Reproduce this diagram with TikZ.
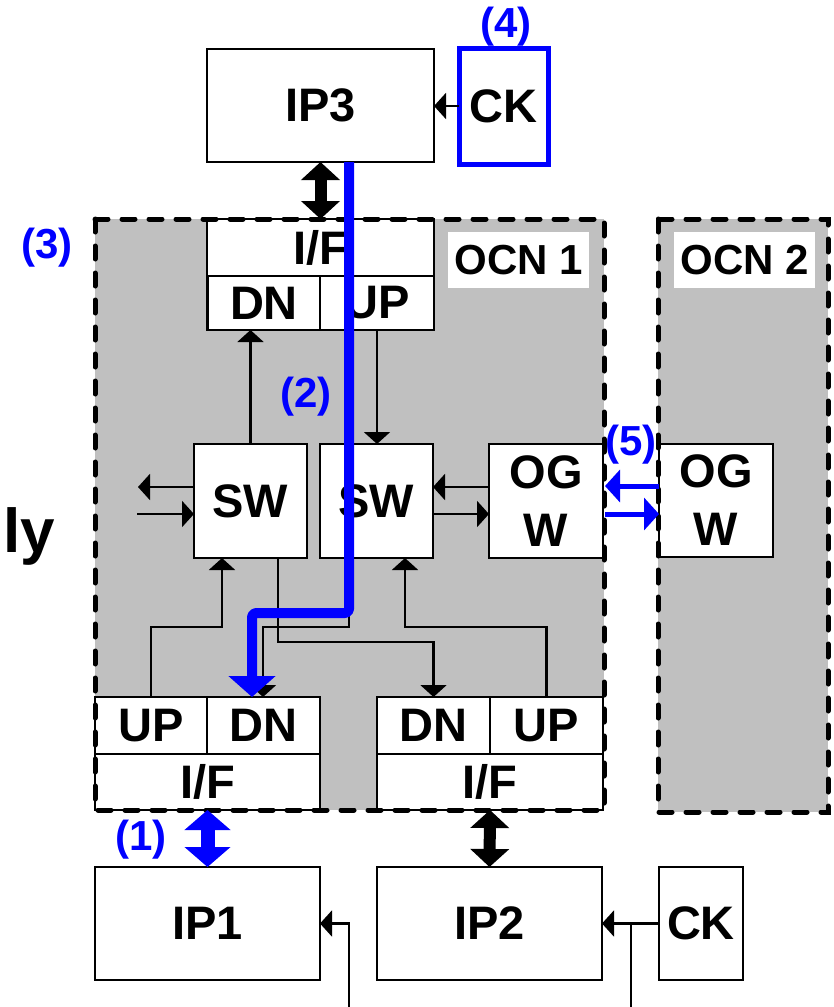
\documentclass[tikz,border=0pt]{standalone}
\usepackage{fontspec}
\setmainfont{Liberation Sans}
\usetikzlibrary{arrows.meta,calc}
\definecolor{ocngray}{HTML}{C0C0C0}
\definecolor{pblue}{HTML}{0000FF}
\begin{document}
\begin{tikzpicture}[x=1pt,y=-1pt,
  box/.style={draw=black,line width=2.6pt,fill=white,inner sep=0pt,outer sep=0pt,
    font=\bfseries\fontsize{47}{58}\selectfont,align=center},
  region/.style={fill=ocngray,inner sep=0pt,outer sep=0pt},
  border/.style={line width=5pt,line cap=round,dash pattern=on 13pt off 14pt},
  lbl/.style={fill=white,inner sep=0pt,outer sep=0pt,font=\bfseries\fontsize{42}{44}\selectfont},
  num/.style={text=pblue,inner sep=0pt,font=\bfseries\fontsize{42}{44}\selectfont},
  arr/.style={line width=2.2pt,-{Triangle[width=26pt,length=12pt]}},
  wire/.style={line width=2.2pt},
  bigdbl/.style={line width=12pt,{Triangle[width=38pt,length=18pt]}-{Triangle[width=38pt,length=18pt]}},
  bluedbl/.style={pblue,line width=14pt,{Triangle[width=45pt,length=20pt]}-{Triangle[width=45pt,length=20pt]}},
  barr/.style={pblue,line width=5pt,-{Triangle[width=32pt,length=15pt]}},
  route/.style={pblue,line width=10pt,line join=round,rounded corners=4pt,-{Triangle[width=46pt,length=21pt]}}
]
\useasboundingbox (0,0) rectangle (833,1007);

% regions
\node[region,minimum width=509pt,minimum height=591pt] (ocn1) at (349.5,514.5) {};
\node[region,minimum width=170pt,minimum height=593pt] (ocn2) at (743,515.5) {};
\node[lbl,minimum width=141pt,minimum height=56pt] (ocn1lbl) at (518.5,260) {OCN 1};
\node[lbl,minimum width=141pt,minimum height=56pt] (ocn2lbl) at (744.5,260) {OCN 2};

% top
\node[box,minimum width=227pt,minimum height=113pt] (IP3) at (320.5,105.5) {IP3};
\node[box,draw=pblue,line width=5pt,minimum width=89pt,minimum height=116pt] (CK4) at (503.5,106) {CK};
\node[box,minimum width=227pt,minimum height=57pt] (IF3) at (320.5,247.5) {I/F};
\node[box,minimum width=113pt,minimum height=54pt] (DN3) at (264,303) {DN};
\node[box,minimum width=114pt,minimum height=54pt] (UP3) at (377,303) {UP};

% switches
\node[box,minimum width=113pt,minimum height=114pt] (SW1) at (250.5,501) {SW};
\node[box,minimum width=113pt,minimum height=114pt] (SW2) at (376.5,501) {SW};
\node[box,minimum width=114pt,minimum height=114pt] (OGW1) at (546,501) {OG\\W};
\node[box,minimum width=114pt,minimum height=113pt] (OGW2) at (716,500.5) {OG\\W};

% bottom interfaces
\node[box,minimum width=112pt,minimum height=57pt] (UP1) at (151,725.5) {UP};
\node[box,minimum width=113pt,minimum height=57pt] (DN1) at (263.5,725.5) {DN};
\node[box,minimum width=225pt,minimum height=56pt] (IF1) at (207.5,782) {I/F};
\node[box,minimum width=113pt,minimum height=57pt] (DN2) at (433.5,725.5) {DN};
\node[box,minimum width=113pt,minimum height=57pt] (UP2) at (546.5,725.5) {UP};
\node[box,minimum width=226pt,minimum height=56pt] (IF2) at (490,782) {I/F};

% IPs
\node[box,minimum width=225pt,minimum height=113pt] (IP1) at (207.5,923.5) {IP1};
\node[box,minimum width=225pt,minimum height=113pt] (IP2) at (489.5,923.5) {IP2};
\node[box,minimum width=84pt,minimum height=113pt] (CK2) at (701,923.5) {CK};

% dashed borders
\draw[border] (ocn1.north west) rectangle (ocn1.south east);
\draw[border] (ocn2.north west) rectangle (ocn2.south east);

% coordinates
\coordinate (swL1) at (138,487);
\coordinate (swL2) at (137,514);
\coordinate (j1) at (222,627);
\coordinate (j2) at (278,642);
\coordinate (j3a) at (349,627);
\coordinate (j3) at (263,627);
\coordinate (j4) at (405,627);
\coordinate (c1) at (349,1007);
\coordinate (c2) at (631,1007);
\coordinate (g1) at (605,486);
\coordinate (g2) at (605,514);
\coordinate (b1) at (349,613);
\coordinate (b2) at (252,613);

% connectors
\draw[bigdbl] (IP3.south) -- (IF3.north);
\draw[arr] (CK4.west) -- (CK4.west -| IP3.east);
\draw[arr] (SW1.north) -- (SW1.north |- DN3.south);
\draw[arr] (UP3.south) -- (UP3.south |- SW2.north);
\draw[arr] (SW1.west |- swL1) -- (swL1);
\draw[arr] (swL2) -- (SW1.west |- swL2);
\draw[arr] (OGW1.west |- swL1) -- (SW2.east |- swL1);
\draw[arr] (SW2.east |- swL2) -- (OGW1.west |- swL2);
\draw[arr] (UP1.north) |- (j1) -- (j1 |- SW1.south);
\draw[arr] (j2 |- SW1.south) -- (j2) -| (DN2.north);
\draw[arr] (j3a |- SW2.south) -- (j3a) -- (j3) -- (j3 |- DN1.north);
\draw[arr] (UP2.north) |- (j4) -- (j4 |- SW2.south);
\draw[bluedbl] (IF1.south) -- (IP1.north);
\draw[bigdbl] (IF2.south) -- (IP2.north);
\draw[arr] (CK2.west) -- (IP2.east);
\draw[wire] (c2) -- (c2 |- CK2.west);
\draw[arr] (c1) |- (IP1.east);
\draw[barr] (OGW2.west |- g1) -- (g1);
\draw[barr] (g2) -- (OGW2.west |- g2);

% highlighted route
\draw[route] (b1 |- IP3.south) -- (b1) -- (b2) -- (b2 |- DN1.north);

% labels
\node[num] (n4) at (506,27) {(4)};
\node[num] (n3) at (47,248) {(3)};
\node[num] (n2) at (306,397) {(2)};
\node[num] (n1) at (141,840) {(1)};
\node[num] (n5) at (631,445) {(5)};
\node[anchor=base west,inner sep=0pt,font=\bfseries\fontsize{62}{64}\selectfont] (ly) at (3,552) {ly};
\end{tikzpicture}
\end{document}
